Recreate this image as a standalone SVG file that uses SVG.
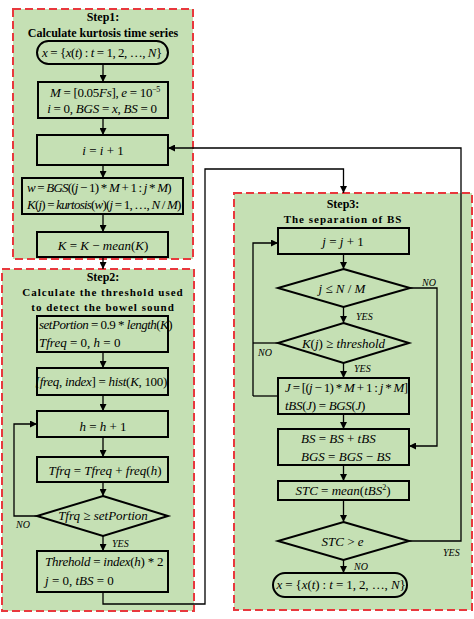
<svg xmlns="http://www.w3.org/2000/svg" width="474" height="619" viewBox="0 0 474 619">
<style>
.step{fill:#c5e0b4;stroke:#e8383d;stroke-width:2;stroke-dasharray:8 4}
.box{fill:#c5e0b4;stroke:#000;stroke-width:2}
.ttl{font-family:"Liberation Serif",serif;font-weight:bold;font-size:12px;text-anchor:middle;fill:#000}
.ttl2{font-family:"Liberation Serif",serif;font-weight:bold;font-size:11px;letter-spacing:1px;text-anchor:middle;fill:#000}
.m{font-family:"Liberation Serif",serif;font-style:italic;font-size:13px;fill:#000}
.c{text-anchor:middle}
.u{font-style:normal}
.lb{font-family:"Liberation Serif",serif;font-style:italic;font-size:10px;fill:#000}
.ln{fill:none;stroke:#000;stroke-width:1.3}
</style>
<defs>
<marker id="ar" viewBox="0 0 10 10" refX="10" refY="5" markerWidth="7" markerHeight="7" markerUnits="userSpaceOnUse" orient="auto">
<path d="M0,0 L10,5 L0,10 z" fill="#000"/>
</marker>
</defs>
<rect width="474" height="619" fill="#fff"/>
<g id="step1">
<rect class="step" x="13" y="9" width="180" height="250"/>
<text class="ttl" x="103" y="21">Step1:</text>
<text class="ttl" x="103" y="37">Calculate kurtosis time series</text>
</g>
<g id="step2">
<rect class="step" x="2" y="269" width="192" height="342"/>
<text class="ttl" x="103" y="281">Step2:</text>
<text class="ttl2" x="103" y="296">Calculate the threshold used</text>
<text class="ttl2" x="103" y="311">to detect the bowel sound</text>
</g>
<g id="step3">
<rect class="step" x="234" y="193" width="238" height="417"/>
<text class="ttl" x="343" y="208">Step3:</text>
<text class="ttl2" x="343" y="223">The separation of BS</text>
</g>
<g id="connectors">
<line class="ln" x1="103" y1="64" x2="103" y2="82" marker-end="url(#ar)"/>
<line class="ln" x1="103" y1="118" x2="103" y2="135" marker-end="url(#ar)"/>
<line class="ln" x1="103" y1="165" x2="103" y2="178" marker-end="url(#ar)"/>
<line class="ln" x1="103" y1="214" x2="103" y2="232" marker-end="url(#ar)"/>
<line class="ln" x1="103" y1="257" x2="103" y2="269" marker-end="url(#ar)"/>
<line class="ln" x1="103" y1="352" x2="103" y2="368" marker-end="url(#ar)"/>
<line class="ln" x1="103" y1="395" x2="103" y2="411" marker-end="url(#ar)"/>
<line class="ln" x1="103" y1="437" x2="103" y2="457" marker-end="url(#ar)"/>
<line class="ln" x1="103" y1="482" x2="103" y2="496" marker-end="url(#ar)"/>
<line class="ln" x1="103" y1="536" x2="103" y2="551" marker-end="url(#ar)"/>
<polyline class="ln" points="37,516 14,516 14,424 37,424" marker-end="url(#ar)"/>
<polyline class="ln" points="103,592 103,604 205,604 205,169 343.5,169 343.5,193" marker-end="url(#ar)"/>
<line class="ln" x1="343.5" y1="254" x2="343.5" y2="269" marker-end="url(#ar)"/>
<line class="ln" x1="343.5" y1="307" x2="343.5" y2="323" marker-end="url(#ar)"/>
<line class="ln" x1="343.5" y1="363" x2="343.5" y2="378" marker-end="url(#ar)"/>
<line class="ln" x1="343.5" y1="414" x2="343.5" y2="429" marker-end="url(#ar)"/>
<line class="ln" x1="343.5" y1="465" x2="343.5" y2="481" marker-end="url(#ar)"/>
<line class="ln" x1="343.5" y1="500" x2="343.5" y2="522" marker-end="url(#ar)"/>
<line class="ln" x1="343.5" y1="560" x2="343.5" y2="573" marker-end="url(#ar)"/>
<polyline class="ln" points="410,288 437,288 437,446 409,446" marker-end="url(#ar)"/>
<line class="ln" x1="278" y1="343" x2="253" y2="343"/>
<line class="ln" x1="278" y1="396" x2="253" y2="396"/>
<polyline class="ln" points="253,396 253,243 278,243" marker-end="url(#ar)"/>
<polyline class="ln" points="409,541 461,541 461,148 168,148" marker-end="url(#ar)"/>
<text class="lb" x="16" y="528">NO</text>
<text class="lb" x="112" y="547">YES</text>
<text class="lb" x="422" y="286">NO</text>
<text class="lb" x="356" y="320">YES</text>
<text class="lb" x="258" y="356">NO</text>
<text class="lb" x="354" y="372">YES</text>
<text class="lb" x="443" y="556">YES</text>
<text class="lb" x="354" y="570">NO</text>
</g>
<g id="start">
<rect class="box" x="37" y="41" width="131" height="23" rx="11.5"/>
<text class="m c" x="102" y="57" font-size="12" letter-spacing="-0.45">x <tspan class="u">= {</tspan>x<tspan class="u">(</tspan>t<tspan class="u">) :</tspan> t <tspan class="u">= 1, 2, …,</tspan> N<tspan class="u">}</tspan></text>
</g>
<g id="init">
<rect class="box" x="38" y="82" width="130" height="36"/>
<text class="m c" x="105" y="97" font-size="12" letter-spacing="-0.3">M <tspan class="u">= [0.05</tspan>Fs<tspan class="u">], </tspan>e <tspan class="u">= 10</tspan><tspan class="u" font-size="8" dy="-5">−5</tspan></text>
<text class="m c" x="102" y="113" font-size="12" letter-spacing="-0.25">i <tspan class="u">= 0, </tspan>BGS <tspan class="u">=</tspan> x<tspan class="u">, </tspan>BS <tspan class="u">= 0</tspan></text>
</g>
<g id="inc-i">
<rect class="box" x="37" y="135" width="131" height="30"/>
<text class="m c" x="103" y="155" font-size="15">i <tspan class="u">=</tspan> i <tspan class="u">+ 1</tspan></text>
</g>
<g id="kurt">
<rect class="box" x="22" y="178" width="161" height="36"/>
<text class="m" x="27" y="192" font-size="10" letter-spacing="-0.8">w <tspan class="u">=</tspan> BGS<tspan class="u">((</tspan>j <tspan class="u">− 1) *</tspan> M <tspan class="u">+ 1 :</tspan> j <tspan class="u">*</tspan> M<tspan class="u">)</tspan></text>
<text class="m" x="27" y="209" font-size="9.5" letter-spacing="-0.8">K<tspan class="u">(</tspan>j<tspan class="u">) =</tspan> kurtosis<tspan class="u">(</tspan>w<tspan class="u">)(</tspan>j <tspan class="u">= 1, …,</tspan> N <tspan class="u">/</tspan> M<tspan class="u">)</tspan></text>
</g>
<g id="center-k">
<rect class="box" x="37" y="232" width="131" height="25"/>
<text class="m c" x="103" y="250" font-size="16">K <tspan class="u">=</tspan> K <tspan class="u">−</tspan> mean<tspan class="u">(</tspan>K<tspan class="u">)</tspan></text>
</g>
<g id="portion">
<rect class="box" x="37" y="316" width="131" height="36"/>
<text class="m" x="39" y="329" font-size="10.5" letter-spacing="-0.5">setPortion <tspan class="u">= 0.9 *</tspan> length<tspan class="u">(</tspan>K<tspan class="u">)</tspan></text>
<text class="m" x="39" y="347" font-size="12.5">Tfreq <tspan class="u">= 0,</tspan> h <tspan class="u">= 0</tspan></text>
</g>
<g id="hist">
<rect class="box" x="37" y="368" width="131" height="27"/>
<text class="m c" x="101" y="386" font-size="12.5" letter-spacing="-0.3">[freq<tspan class="u">,</tspan> index<tspan class="u">] =</tspan> hist<tspan class="u">(</tspan>K<tspan class="u">, 100)</tspan></text>
</g>
<g id="inc-h">
<rect class="box" x="37" y="411" width="131" height="26"/>
<text class="m c" x="103" y="431" font-size="17">h <tspan class="u">=</tspan> h <tspan class="u">+ 1</tspan></text>
</g>
<g id="accum">
<rect class="box" x="37" y="457" width="131" height="25"/>
<text class="m c" x="105" y="475" font-size="14">Tfrq <tspan class="u">=</tspan> Tfreq <tspan class="u">+</tspan> freq<tspan class="u">(</tspan>h<tspan class="u">)</tspan></text>
</g>
<g id="check-portion">
<polygon class="box" points="103,496 168,516 103,536 37,516"/>
<text class="m c" x="103" y="520" font-size="12">Tfrq <tspan class="u">≥</tspan> setPortion</text>
</g>
<g id="threshold">
<rect class="box" x="37" y="551" width="131" height="41"/>
<text class="m" x="45" y="566" font-size="12" letter-spacing="-0.25">Threhold <tspan class="u">=</tspan> index<tspan class="u">(</tspan>h<tspan class="u">) * 2</tspan></text>
<text class="m" x="45" y="585" font-size="12.5">j <tspan class="u">= 0,</tspan> tBS <tspan class="u">= 0</tspan></text>
</g>
<g id="inc-j">
<rect class="box" x="278" y="228" width="131" height="26"/>
<text class="m c" x="343" y="246" font-size="15.5">j <tspan class="u">=</tspan> j <tspan class="u">+ 1</tspan></text>
</g>
<g id="check-j">
<polygon class="box" points="343.5,269 410,288 343.5,307 278,288"/>
<text class="m c" x="342" y="293" font-size="13.5">j <tspan class="u">≤</tspan> N <tspan class="u">/</tspan> M</text>
</g>
<g id="check-k">
<polygon class="box" points="343.5,323 409,343 343.5,363 278,343"/>
<text class="m c" x="343.5" y="348" font-size="13.5">K<tspan class="u">(</tspan>j<tspan class="u">) ≥</tspan> threshold</text>
</g>
<g id="segment">
<rect class="box" x="278" y="378" width="131" height="36"/>
<text class="m" x="285" y="392" font-size="10" letter-spacing="-0.7">J <tspan class="u">= [(</tspan>j <tspan class="u">− 1) *</tspan> M <tspan class="u">+ 1 :</tspan> j <tspan class="u">*</tspan> M<tspan class="u">]</tspan></text>
<text class="m" x="285" y="410" font-size="12" letter-spacing="-0.3">tBS<tspan class="u">(</tspan>J<tspan class="u">) =</tspan> BGS<tspan class="u">(</tspan>J<tspan class="u">)</tspan></text>
</g>
<g id="update">
<rect class="box" x="278" y="429" width="131" height="36"/>
<text class="m" x="301" y="443" font-size="12.5">BS <tspan class="u">=</tspan> BS <tspan class="u">+</tspan> tBS</text>
<text class="m" x="301" y="461" font-size="12.5">BGS <tspan class="u">=</tspan> BGS <tspan class="u">−</tspan> BS</text>
</g>
<g id="stc">
<rect class="box" x="278" y="481" width="131" height="19"/>
<text class="m c" x="343" y="495" font-size="13">STC <tspan class="u">=</tspan> mean<tspan class="u">(</tspan>tBS<tspan class="u" font-size="8" dy="-5">2</tspan><tspan class="u" dy="5">)</tspan></text>
</g>
<g id="check-stc">
<polygon class="box" points="343.5,522 409,541 343.5,560 278,541"/>
<text class="m c" x="342.5" y="546" font-size="13">STC <tspan class="u">&gt;</tspan> e</text>
</g>
<g id="end">
<rect class="box" x="273" y="573" width="134" height="24" rx="12"/>
<text class="m c" x="341" y="589" font-size="12" letter-spacing="-0.1">x <tspan class="u">= {</tspan>x<tspan class="u">(</tspan>t<tspan class="u">) :</tspan> t <tspan class="u">= 1, 2, …,</tspan> N<tspan class="u">}</tspan></text>
</g>
</svg>
